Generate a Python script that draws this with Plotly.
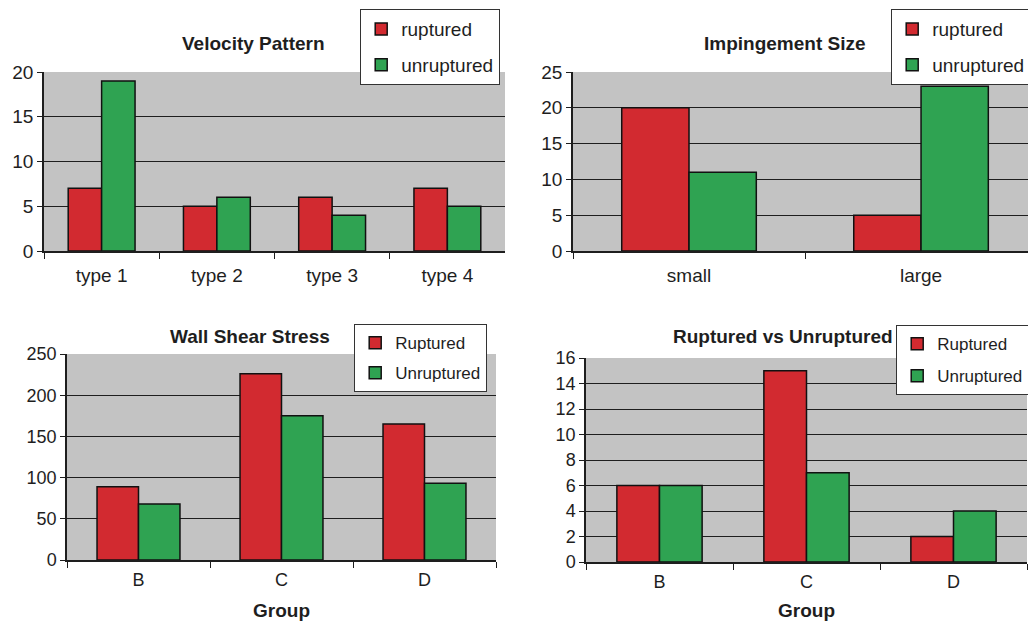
import plotly.graph_objects as go

# ---- data ----
vel_types = ["type 1", "type 2", "type 3", "type 4"]
vel_ruptured = [7, 5, 6, 7]
vel_unruptured = [19, 6, 4, 5]

imp_sizes = ["small", "large"]
imp_ruptured = [20, 5]
imp_unruptured = [11, 23]

wss_groups = ["B", "C", "D"]
wss_ruptured = [89, 226, 165]
wss_unruptured = [68, 175, 93]

cnt_groups = ["B", "C", "D"]
cnt_ruptured = [6, 15, 2]
cnt_unruptured = [6, 7, 4]

# ---- styling ----
W, H = 1028, 621
RED = "#D22A30"
GREEN = "#2FA352"
PLOT_BG = "#C3C3C3"
INK = "#1E1E1E"
FONT = "Liberation Sans, Arial, sans-serif"


def px_x(x):
    return x / W


def px_y(y):
    return 1 - y / H


fig = go.Figure()

panels = [
    # (cats, ruptured, unruptured, names, xaxis id, legend id)
    (vel_types, vel_ruptured, vel_unruptured, ("ruptured", "unruptured"), "", "legend"),
    (imp_sizes, imp_ruptured, imp_unruptured, ("ruptured", "unruptured"), "2", "legend2"),
    (wss_groups, wss_ruptured, wss_unruptured, ("Ruptured", "Unruptured"), "3", "legend3"),
    (cnt_groups, cnt_ruptured, cnt_unruptured, ("Ruptured", "Unruptured"), "4", "legend4"),
]

for cats, rup, unr, names, ax, leg in panels:
    for vals, name, color, grp in ((rup, names[0], RED, "r"), (unr, names[1], GREEN, "u")):
        fig.add_trace(go.Bar(
            x=cats, y=vals, name=name,
            marker=dict(color=color, line=dict(color="#111111", width=1.5)),
            xaxis="x" + ax, yaxis="y" + ax,
            legend=leg, legendgroup=leg + grp,
        ))

top_y = [px_y(251), px_y(72)]
bot3_y = [px_y(560), px_y(354)]
bot4_y = [px_y(562), px_y(358)]

xcommon = dict(
    type="category", showgrid=False, showline=True, linecolor=INK, linewidth=1.5,
    ticks="outside", tickson="boundaries", ticklen=6, tickcolor=INK,
    tickfont=dict(family=FONT, size=19, color=INK), ticklabelstandoff=6,
    mirror=False, fixedrange=True,
)
ycommon = dict(
    showgrid=True, gridcolor=INK, gridwidth=1.3, showline=True, linecolor=INK,
    linewidth=1.5, ticks="outside", ticklen=5, tickcolor=INK, zeroline=False,
    tickfont=dict(family=FONT, size=19, color=INK), fixedrange=True,
)

fig.update_layout(
    width=W, height=H,
    margin=dict(l=0, r=0, t=0, b=0, autoexpand=False),
    paper_bgcolor="white", plot_bgcolor=PLOT_BG,
    barmode="group", bargap=0.42, bargroupgap=0,
    font=dict(family=FONT, color=INK),
    xaxis=dict(xcommon, domain=[px_x(44), px_x(505)], anchor="y"),
    yaxis=dict(ycommon, domain=top_y, range=[0, 20], dtick=5, anchor="x"),
    xaxis2=dict(xcommon, domain=[px_x(573), 1.0], range=[-0.5, 1.461], anchor="y2"),
    yaxis2=dict(ycommon, domain=top_y, range=[0, 25], dtick=5, anchor="x2"),
    xaxis3=dict(xcommon, domain=[px_x(67), px_x(496)], anchor="y3",
                tickfont=dict(family=FONT, size=18, color=INK), ticklabelstandoff=3),
    yaxis3=dict(ycommon, domain=bot3_y, range=[0, 250], dtick=50, anchor="x3",
                tickfont=dict(family=FONT, size=18, color=INK)),
    xaxis4=dict(xcommon, domain=[px_x(586), px_x(1027)], anchor="y4",
                tickfont=dict(family=FONT, size=18, color=INK), ticklabelstandoff=3),
    yaxis4=dict(ycommon, domain=bot4_y, range=[0, 16], dtick=2, anchor="x4",
                tickfont=dict(family=FONT, size=18, color=INK)),
    showlegend=True,
)

legend_common = dict(
    bgcolor="white", bordercolor="#333333", borderwidth=1.2,
    traceorder="grouped", itemclick=False, itemdoubleclick=False,
)
fig.update_layout(
    legend=dict(legend_common, x=px_x(500), xanchor="right", y=px_y(9), yanchor="top",
                font=dict(family=FONT, size=19, color=INK), tracegroupgap=8),
    legend2=dict(legend_common, x=px_x(1031), xanchor="right", y=px_y(9), yanchor="top",
                 font=dict(family=FONT, size=19, color=INK), tracegroupgap=8),
    legend3=dict(legend_common, x=px_x(487), xanchor="right", y=px_y(324), yanchor="top",
                 font=dict(family=FONT, size=17, color=INK), tracegroupgap=5),
    legend4=dict(legend_common, x=px_x(1029), xanchor="right", y=px_y(325), yanchor="top",
                 font=dict(family=FONT, size=17, color=INK), tracegroupgap=7),
)

# Panel titles and axis titles
titles = [
    ("Velocity Pattern", 253, 44),
    ("Impingement Size", 785, 44),
    ("Wall Shear Stress", 250, 336),
    ("Ruptured vs Unruptured", 783, 336),
    ("Group", 281, 610),
    ("Group", 806, 610),
]
for text, x, y in titles:
    fig.add_annotation(
        text=f"<b>{text}</b>", x=px_x(x), y=px_y(y), xref="paper", yref="paper",
        xanchor="center", yanchor="middle", showarrow=False,
        font=dict(family=FONT, size=19, color=INK),
    )

fig.write_html("out.html")
